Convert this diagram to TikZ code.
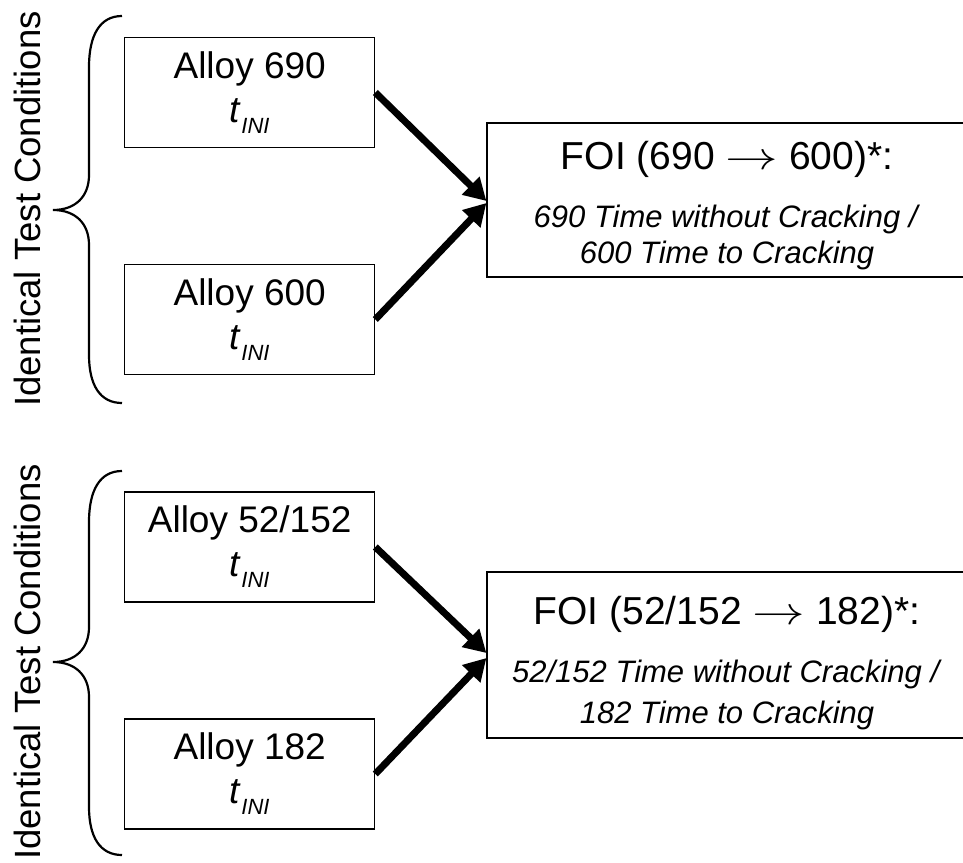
\RequirePackage{fix-cm}
\documentclass[tikz,border=0pt]{standalone}
\usepackage{graphicx}
\usepackage{fontspec}
\setmainfont{Liberation Sans}
\usetikzlibrary{arrows.meta}
\usepackage{amsmath}

\newcommand{\tini}{\textit{t}\raisebox{-11pt}{\fontsize{22}{22}\selectfont\textit{INI}}}
\newcommand{\foiarrow}{\scalebox{1.35}[1]{$\rightarrow$}}

\begin{document}
\begin{tikzpicture}[x=1pt,y=-1pt,>={Triangle[length=22pt,width=24pt]},
  alloy/.style={draw, line width=1.2pt, minimum width=250pt, minimum height=110pt,
    align=center, inner sep=0pt, font=\fontsize{37}{44}\selectfont},
  foi/.style={draw, line width=1.2pt, minimum width=480pt, align=center,
    inner sep=0pt, font=\fontsize{31}{36}\selectfont},
  conditions/.style={rotate=90, anchor=base, font=\fontsize{36.5}{44}\selectfont},
  brace/.style={line width=2.2pt},
  link/.style={->, line width=7pt}]

\useasboundingbox (0,0) rectangle (963,862);

% define the boxes of the first comparison
  \node[alloy]   (a690) at (249.7,92.5)
{Alloy 690\\ \tini};
  \node[alloy]   (a600) at (249.7,319.5)
{Alloy 600\\ \tini};
  \node[foi, minimum height=154pt]   (foiA) at (727,200)
{{\fontsize{39}{44}\selectfont\rule{0pt}{38.5pt}FOI (690 \foiarrow{} 600)*:}\\[22pt]
 \textit{690 Time without Cracking /}\\ \textit{600 Time to Cracking}};

% define the boxes of the second comparison
  \node[alloy]   (a52) at (249.7,547)
{Alloy 52/152\\ \tini};
  \node[alloy]   (a182) at (249.7,774)
{Alloy 182\\ \tini};
  \node[foi, minimum height=166pt]   (foiB) at (727,655)
{{\fontsize{39}{44}\selectfont\rule{0pt}{43.5pt}FOI (52/152 \foiarrow{} 182)*:}\\[22pt]
 \textit{52/152 Time without Cracking /}\\[5pt] \textit{182 Time to Cracking}};

% the braces and their labels
  \draw[brace] (122,16) .. controls (100,16) and (89,35) .. (89,67) -- (89,175)
    .. controls (89,197) and (75,210) .. (53,210)
    .. controls (75,210) and (89,223) .. (89,245) -- (89,355)
    .. controls (89,385) and (100,403) .. (122,403);
  \draw[brace] (122,471) .. controls (100,471) and (89,490) .. (89,522) -- (89,627)
    .. controls (89,649) and (75,662) .. (53,662)
    .. controls (75,662) and (89,675) .. (89,697) -- (89,807)
    .. controls (89,837) and (100,855) .. (122,855);
  \node[conditions] (condA) at (40,209) {Identical Test Conditions};
  \node[conditions] (condB) at (40,662) {Identical Test Conditions};

% define the links
  \path[link] (a690.east) edge ([yshift=-1pt]foiA.west)
        (a600.east) edge ([yshift=-3pt]foiA.west)
        (a52.east)  edge ([yshift=2pt]foiB.west)
        (a182.east) edge ([yshift=-3pt]foiB.west);

\end{tikzpicture}
\end{document}
